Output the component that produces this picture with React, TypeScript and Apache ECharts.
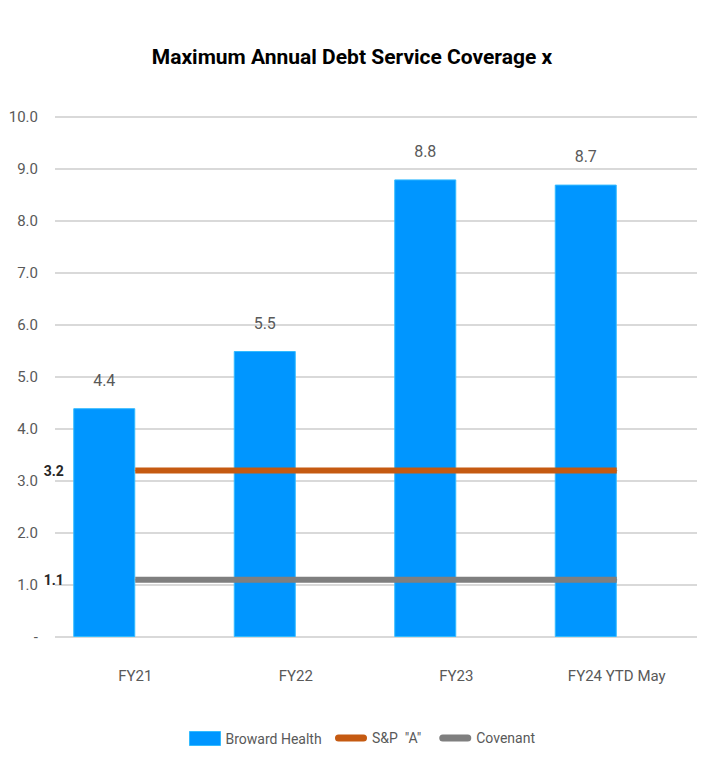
import React, { useEffect, useRef } from "react";
import * as echarts from "echarts";

const categories = ["FY21", "FY22", "FY23", "FY24 YTD May"];
const browardHealth = [4.4, 5.5, 8.8, 8.7];
const spA = [3.2, 3.2, 3.2, 3.2];
const covenant = [1.1, 1.1, 1.1, 1.1];
const yMin = 0;
const yMax = 10;
const yInterval = 1;

const FONT = "Roboto, 'Liberation Sans', sans-serif";
const GREY_TEXT = "#595959";
const LINE_ICON = "path://M3.5,0 L28.5,0 A3.5,3.5 0 0 1 28.5,7 L3.5,7 A3.5,3.5 0 0 1 3.5,0 Z";

export default function App() {
  const ref = useRef<HTMLDivElement>(null);
  useEffect(() => {
    document.body.style.margin = "0";
    const chart = echarts.init(ref.current!, null, { renderer: "svg" });
    const lineData = (vals: number[]) =>
      vals.map((v, i) => (i === 0 ? { value: v, label: { show: true } } : v));
    const lineLabel = {
      show: false,
      position: "left",
      distance: 0,
      offset: [-71, 0],
      fontFamily: FONT,
      fontSize: 14,
      fontWeight: "bold",
      color: "#262626",
      formatter: (p: any) => Number(p.value).toFixed(1),
    };
    chart.setOption({
      animation: false,
      backgroundColor: "#ffffff",
      textStyle: { fontFamily: FONT },
      title: {
        text: "Maximum Annual Debt Service Coverage x",
        left: "center",
        top: 41,
        textStyle: { fontFamily: FONT, fontSize: 21, fontWeight: "bold", color: "#000000" },
      },
      legend: [
        {
          left: 184,
          top: 726,
          itemWidth: 31,
          itemHeight: 14,
          textStyle: { fontFamily: FONT, fontSize: 14, color: GREY_TEXT },
          data: [{ name: "Broward Health", icon: "rect", itemStyle: { borderColor: "#33BBFF", borderWidth: 1 } }],
        },
        {
          left: 330,
          top: 726,
          itemWidth: 32,
          itemHeight: 7,
          itemGap: 18,
          textStyle: { fontFamily: FONT, fontSize: 14, color: GREY_TEXT },
          data: [
            { name: 'S&P  "A"', icon: LINE_ICON },
            { name: "Covenant", icon: LINE_ICON },
          ],
        },
      ],
      grid: [
        { left: 55, right: 7, top: 117, bottom: 141 },
        { left: 24, right: 38, top: 117, bottom: 141 },
      ],
      xAxis: [
        {
          type: "category",
          gridIndex: 0,
          data: categories,
          axisLine: { show: false },
          axisTick: { show: false },
          axisLabel: { margin: 31, fontFamily: FONT, fontSize: 15, color: GREY_TEXT },
        },
        {
          type: "category",
          gridIndex: 1,
          data: categories,
          axisLine: { show: false },
          axisTick: { show: false },
          axisLabel: { show: false },
        },
      ],
      yAxis: [
        {
          type: "value",
          gridIndex: 0,
          min: yMin,
          max: yMax,
          interval: yInterval,
          axisLine: { show: false },
          axisTick: { show: false },
          splitLine: { lineStyle: { color: "#D9D9D9", width: 2 } },
          axisLabel: {
            margin: 17,
            fontFamily: FONT,
            fontSize: 15,
            color: GREY_TEXT,
            formatter: (v: number) => (v === 0 ? "-" : v.toFixed(1)),
          },
        },
        {
          type: "value",
          gridIndex: 1,
          min: yMin,
          max: yMax,
          interval: yInterval,
          show: false,
          splitLine: { show: false },
        },
      ],
      series: [
        {
          name: "Broward Health",
          type: "bar",
          xAxisIndex: 1,
          yAxisIndex: 1,
          data: browardHealth,
          barWidth: 62,
          z: 2,
          itemStyle: { color: "#0096FF", borderColor: "#33BBFF", borderWidth: 1 },
          label: {
            show: true,
            position: "top",
            distance: 20,
            fontFamily: FONT,
            fontSize: 16,
            color: GREY_TEXT,
            formatter: (p: any) => Number(p.value).toFixed(1),
          },
        },
        {
          name: 'S&P  "A"',
          type: "line",
          xAxisIndex: 0,
          yAxisIndex: 0,
          data: lineData(spA),
          symbol: "circle",
          symbolSize: 1,
          z: 5,
          color: "#C55A11",
          itemStyle: { color: "#C55A11" },
          lineStyle: { color: "#C55A11", width: 6 },
          label: lineLabel,
        },
        {
          name: "Covenant",
          type: "line",
          xAxisIndex: 0,
          yAxisIndex: 0,
          data: lineData(covenant),
          symbol: "circle",
          symbolSize: 1,
          z: 5,
          color: "#7F7F7F",
          itemStyle: { color: "#7F7F7F" },
          lineStyle: { color: "#7F7F7F", width: 6 },
          label: lineLabel,
        },
      ],
    });
    return () => chart.dispose();
  }, []);
  return <div ref={ref} style={{ width: 704, height: 778 }} />;
}
